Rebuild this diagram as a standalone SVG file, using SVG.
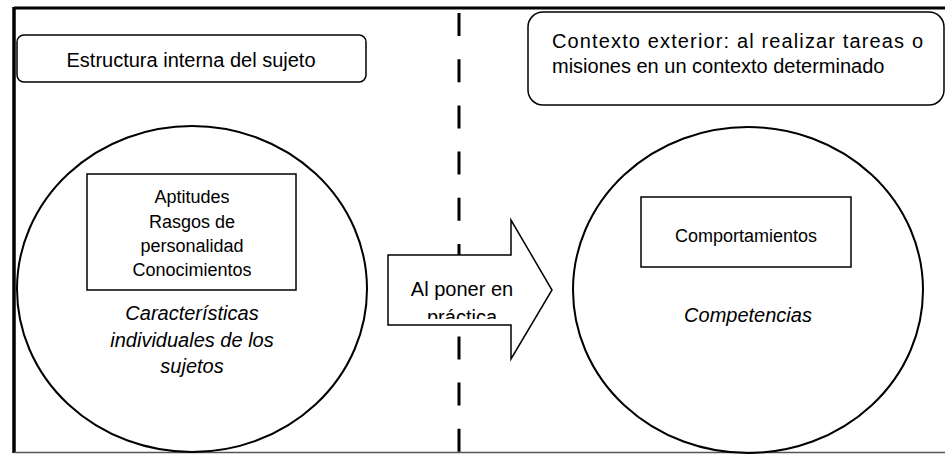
<svg xmlns="http://www.w3.org/2000/svg" width="945" height="455" viewBox="0 0 945 455">
<style>
.t{font-family:"Liberation Sans","Noto Sans",Arial,sans-serif;fill:#000;}
.n{font-size:18px;}
.h{font-size:20px;}
.i{font-size:20px;font-style:italic;}
.ln{fill:none;stroke:#000;}
</style>
<defs>
<clipPath id="shaftClip"><rect x="389" y="256" width="160" height="63"/></clipPath>
</defs>
<rect width="945" height="455" fill="#fff"/>
<g id="frame">
<line x1="14" y1="8" x2="945" y2="8" stroke="#000" stroke-width="3"/>
<line x1="14" y1="7" x2="14" y2="453" stroke="#000" stroke-width="3.5"/>
<line x1="14" y1="452.5" x2="945" y2="452.5" stroke="#555" stroke-width="1.5"/>
</g>
<g id="connectors">
<line x1="459" y1="13" x2="459" y2="453" stroke="#000" stroke-width="3" stroke-dasharray="23 23.2"/>
</g>
<g id="box-interna">
<rect x="17" y="35" width="349" height="47" rx="7" class="ln" stroke-width="1.5"/>
<text class="t h" x="191" y="67" text-anchor="middle">Estructura interna del sujeto</text>
</g>
<g id="box-exterior">
<rect x="528" y="12" width="416" height="93" rx="15" class="ln" stroke-width="1.5"/>
<text class="t h" x="552" y="48" textLength="371" lengthAdjust="spacing">Contexto exterior: al realizar tareas o</text>
<text class="t h" x="552" y="73">misiones en un contexto determinado</text>
</g>
<g id="circle-left">
<ellipse cx="192" cy="289" rx="175" ry="163" class="ln" stroke-width="2"/>
<rect x="87" y="174" width="209" height="116" class="ln" stroke-width="1.5"/>
<text class="t n" text-anchor="middle"><tspan x="192" y="203">Aptitudes</tspan><tspan x="192" y="228">Rasgos de</tspan><tspan x="192" y="252">personalidad</tspan><tspan x="192" y="276">Conocimientos</tspan></text>
<text class="t i" text-anchor="middle"><tspan x="192" y="320">Características</tspan><tspan x="192" y="347">individuales de los</tspan><tspan x="192" y="373">sujetos</tspan></text>
</g>
<g id="arrow">
<polygon points="388,255 511,255 511,220 552,290 511,359 511,325 388,325" fill="#fff" stroke="#000" stroke-width="1.5" stroke-linejoin="miter"/>
<g clip-path="url(#shaftClip)">
<text class="t" font-size="20" text-anchor="middle"><tspan x="462" y="296">Al poner en</tspan><tspan x="462" y="324">práctica</tspan></text>
</g>
</g>
<g id="circle-right">
<ellipse cx="748" cy="290" rx="175" ry="163" class="ln" stroke-width="2"/>
<rect x="641" y="197" width="210" height="70" class="ln" stroke-width="1.5"/>
<text class="t n" x="746" y="242" text-anchor="middle">Comportamientos</text>
<text class="t i" x="748" y="322" text-anchor="middle">Competencias</text>
</g>
</svg>
